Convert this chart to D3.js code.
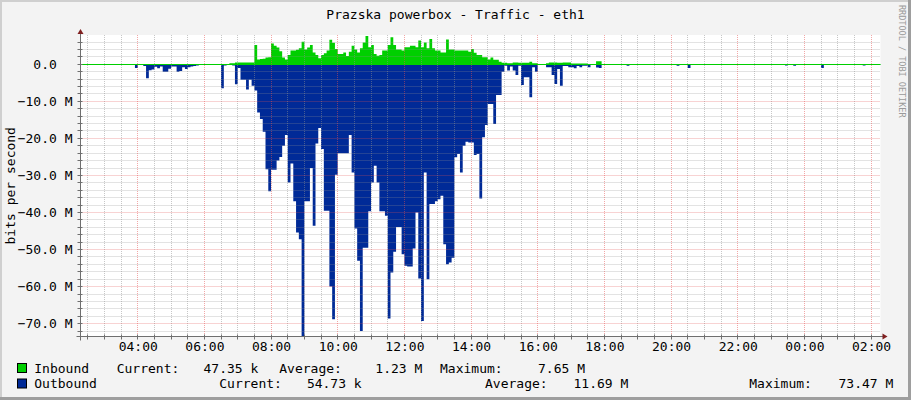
<!DOCTYPE html>
<html>
<head>
<meta charset="utf-8">
<script src="https://cdn.jsdelivr.net/npm/d3@7"></script>
<style>
  body { margin: 0; background: #fff; }
  text { font-family: "DejaVu Sans Mono", "Liberation Mono", monospace; }
</style>
</head>
<body>
<svg id="chart"></svg>
<script>
// 5 minute samples starting 02:20, values in Mbit/s
const sampleStart = "02:20";
const stepMinutes = 5;

const inbound = [
  0.05,0.05,0.05,0.05,0.05,0.05,0.05,0.05,0.05,0.05,0.05,0.05,
  0.05,0.05,0.05,0.05,0.05,0.05,0.05,0.05,0.05,0.05,0.05,0.05,
  0.05,0.05,0.05,0.05,0.05,0.05,0.05,0.05,0.05,0.05,0.05,0.05,
  0.05,0.05,0.05,0.05,0.05,0.05,0.05,0.05,0.05,0.05,0.05,0.05,
  0.05,0.05,0.05,0.05,0.05,0.3,0.3,0.5,0.5,0.5,0.5,0.5,
  0.5,0.5,5.2,1.3,1.4,1.5,1.8,1.9,5.6,5.0,4.5,3.5,
  1.8,1.3,2.5,3.7,3.7,3.9,4.3,6.1,4.0,4.5,5.2,3.2,
  2.5,1.6,2.5,3.0,3.7,6.6,5.8,4.1,2.8,2.8,3.2,2.2,
  3.4,5.0,4.0,3.2,4.3,5.9,7.65,4.6,5.2,2.8,2.3,2.5,
  3.7,3.7,5.2,7.3,5.2,4.0,4.0,3.7,4.6,4.6,5.0,5.0,
  4.6,6.4,4.6,5.9,4.3,6.8,4.3,3.7,3.7,3.2,3.2,6.7,
  4.0,4.0,3.7,3.7,3.7,3.7,3.7,3.4,4.1,3.1,2.5,2.5,
  1.9,1.9,1.3,1.8,1.2,1.2,0.7,0.4,0.4,0.3,0.3,0.5,
  0.5,0.4,0.4,0.4,0.4,0.7,0.3,0.3,0.1,0.1,0.1,0.3,
  0.5,0.5,0.5,0.4,0.4,0.5,0.5,0.5,0.2,0.2,0.2,0.2,
  0.2,0.2,0.1,0.1,0.1,0.8,0.8,0.05,0.05,0.05,0.05,0.05,
  0.05,0.05,0.05,0.05,0.05,0.05,0.05,0.05,0.05,0.05,0.05,0.05,
  0.05,0.05,0.05,0.05,0.05,0.05,0.05,0.05,0.05,0.05,0.05,0.05,
  0.05,0.05,0.05,0.05,0.05,0.05,0.05,0.05,0.05,0.05,0.05,0.05,
  0.05,0.05,0.05,0.05,0.05,0.05,0.05,0.05,0.05,0.05,0.05,0.05,
  0.05,0.05,0.05,0.05,0.05,0.05,0.05,0.05,0.05,0.05,0.05,0.05,
  0.05,0.05,0.05,0.05,0.05,0.05,0.05,0.05,0.05,0.05,0.05,0.05,
  0.05,0.05,0.05,0.05,0.05,0.05,0.05,0.05,0.05,0.05,0.05,0.05,
  0.05,0.05,0.05,0.05,0.05,0.05,0.05,0.05,0.05,0.05,0.05,0.05
];

const outbound = [
  0.05,0.05,0.05,0.05,0.05,0.05,0.05,0.05,0.05,0.05,0.05,0.05,
  0.05,0.05,0.05,0.05,0.05,0.05,0.05,1.0,0.1,0.2,0.5,3.8,
  1.6,1.4,0.7,1.1,0.6,2.0,2.0,1.2,0.6,0.6,2.0,1.8,
  0.8,1.3,0.8,0.6,0.5,0.3,0.05,0.05,0.05,0.05,0.05,0.05,
  0.05,0.05,6.5,0.3,0.2,0.2,0.3,5.4,1.0,4.2,4.2,6.8,
  4.2,5.8,7.1,13.0,14.8,18.2,28.3,34.3,28.5,28.5,26.0,25.0,
  22.0,19.1,31.9,26.8,37.0,45.4,47.2,73.47,37.0,37.0,28.0,43.6,
  21.4,17.2,22.9,39.5,39.5,60.0,68.8,29.8,24.0,24.0,24.0,24.0,
  19.1,29.2,44.3,53.0,72.0,49.5,49.5,39.7,31.9,27.4,31.9,39.7,
  39.7,40.9,68.6,56.2,50.6,43.9,43.9,51.3,54.4,54.6,54.6,49.7,
  40.0,57.8,69.3,29.2,58.0,37.7,37.7,37.0,36.4,35.5,48.6,54.0,
  53.5,52.2,25.1,24.2,29.2,22.0,20.9,21.1,21.1,24.5,24.2,36.2,
  19.7,16.4,10.7,10.7,16.1,8.3,8.3,2.0,0.4,1.7,0.6,1.7,
  2.9,0.4,5.6,3.5,3.5,8.9,0.8,2.0,0.2,0.2,0.2,0.8,
  0.8,2.9,5.3,1.3,5.8,0.5,0.5,0.8,0.8,1.1,0.5,0.8,
  0.4,0.4,0.8,0.1,0.1,0.9,1.0,0.05,0.05,0.05,0.05,0.05,
  0.05,0.05,0.05,0.05,0.4,0.05,0.05,0.05,0.05,0.05,0.05,0.05,
  0.05,0.05,0.05,0.05,0.05,0.05,0.05,0.05,0.05,0.05,0.4,0.05,
  0.05,0.05,1.0,0.05,0.05,0.05,0.05,0.05,0.05,0.05,0.05,0.05,
  0.05,0.05,0.05,0.05,0.05,0.05,0.05,0.05,0.05,0.05,0.05,0.05,
  0.05,0.05,0.05,0.05,0.05,0.05,0.05,0.05,0.05,0.05,0.05,0.05,
  0.05,0.3,0.05,0.05,0.4,0.05,0.05,0.05,0.05,0.05,0.05,0.05,
  0.05,0.05,1.0,0.05,0.05,0.05,0.05,0.05,0.05,0.05,0.05,0.05,
  0.05,0.05,0.05,0.05,0.05,0.3,0.05,0.05,0.05,0.05,0.05,0.05
];

const yTickValues = [0, -10, -20, -30, -40, -50, -60, -70];
const legendNames = ["Inbound", "Outbound"];
const legendColors = ["#00cf00", "#002a97"];
const legendCurrent = ["47.35 k", "54.73 k"];
const legendAverage = ["1.23 M", "11.69 M"];
const legendMaximum = ["7.65 M", "73.47 M"];

const title = "Prazska powerbox - Traffic - eth1";
const yLabel = "bits per second";
const watermark = "RRDTOOL / TOBI OETIKER";

const width = 911, height = 400;
const plot = { left: 80.5, right: 880.5, top: 35, bottom: 336.5 };

const svg = d3.select("#chart").attr("width", width).attr("height", height);

// frame
svg.append("rect").attr("width", width).attr("height", height).attr("fill", "#f3f3f3");
svg.append("rect").attr("x", 0).attr("y", 0).attr("width", width).attr("height", 2).attr("fill", "#cfcfcf");
svg.append("rect").attr("x", 0).attr("y", 0).attr("width", 2).attr("height", height).attr("fill", "#cfcfcf");
svg.append("rect").attr("x", 0).attr("y", height - 3).attr("width", width).attr("height", 3).attr("fill", "#9e9e9e");
svg.append("rect").attr("x", width - 3).attr("y", 0).attr("width", 3).attr("height", height).attr("fill", "#9e9e9e");

const parseTime = d3.timeParse("%Y-%m-%d %H:%M");
const t0 = parseTime("2000-01-01 " + sampleStart);
const viewStart = parseTime("2000-01-01 02:17");
const viewEnd = d3.timeHour.offset(viewStart, 24);

const x = d3.scaleTime().domain([viewStart, viewEnd]).range([plot.left, plot.right]);
const y = d3.scaleLinear().domain([-73.47, 7.9]).range([plot.bottom, plot.top]);

// canvas
svg.append("rect")
    .attr("x", plot.left).attr("y", plot.top)
    .attr("width", plot.right - plot.left).attr("height", plot.bottom - plot.top)
    .attr("fill", "#fff");

svg.append("defs").append("clipPath").attr("id", "clip")
  .append("rect")
    .attr("x", plot.left).attr("y", plot.top)
    .attr("width", plot.right - plot.left).attr("height", plot.bottom - plot.top);

const series = (vals) => {
    const pts = vals.map((v, i) => ({ t: d3.timeMinute.offset(t0, i * stepMinutes), v }));
    // close last step
    pts.push({ t: d3.timeMinute.offset(t0, vals.length * stepMinutes), v: vals[vals.length - 1] });
    return pts;
};

const data = svg.append("g").attr("clip-path", "url(#clip)");

const inArea = d3.area()
    .curve(d3.curveStepAfter)
    .x(d => x(d.t))
    .y0(y(0))
    .y1(d => y(d.v));

const outArea = d3.area()
    .curve(d3.curveStepAfter)
    .x(d => x(d.t))
    .y0(y(0))
    .y1(d => y(-d.v));

data.append("path").datum(series(inbound)).attr("d", inArea).attr("fill", legendColors[0]);
data.append("path").datum(series(outbound)).attr("d", outArea).attr("fill", legendColors[1]);

// grid on top of data, like rrdtool
const grid = svg.append("g");
const crisp = v => Math.round(v - 0.5) + 0.5;

const minorX = d3.timeMinute.every(30).range(viewStart, viewEnd);
const majorX = d3.timeHour.every(2).range(viewStart, viewEnd);
const minorY = d3.range(-72, 8, 2);

grid.selectAll("line.mx")
  .data(minorX.filter(d => d.getMinutes() !== 0 || d.getHours() % 2 !== 0))
  .join("line")
    .attr("x1", d => crisp(x(d))).attr("x2", d => crisp(x(d)))
    .attr("y1", plot.top).attr("y2", plot.bottom)
    .attr("stroke", "rgba(143,143,143,0.5)").attr("stroke-dasharray", "1,1");

grid.selectAll("line.my")
  .data(minorY.filter(d => d % 10 !== 0))
  .join("line")
    .attr("x1", plot.left).attr("x2", plot.right)
    .attr("y1", d => crisp(y(d))).attr("y2", d => crisp(y(d)))
    .attr("stroke", "rgba(143,143,143,0.5)").attr("stroke-dasharray", "1,1");

grid.selectAll("line.Mx")
  .data(majorX)
  .join("line")
    .attr("x1", d => crisp(x(d))).attr("x2", d => crisp(x(d)))
    .attr("y1", plot.top).attr("y2", plot.bottom)
    .attr("stroke", "rgba(230,80,80,0.5)").attr("stroke-dasharray", "1,1");

grid.selectAll("line.My")
  .data(yTickValues.filter(d => d !== 0))
  .join("line")
    .attr("x1", plot.left).attr("x2", plot.right)
    .attr("y1", d => crisp(y(d))).attr("y2", d => crisp(y(d)))
    .attr("stroke", "rgba(230,80,80,0.5)").attr("stroke-dasharray", "1,1");

// zero line
svg.append("line")
    .attr("x1", plot.left).attr("x2", plot.right)
    .attr("y1", crisp(y(0))).attr("y2", crisp(y(0)))
    .attr("stroke", legendColors[0]).attr("stroke-width", 1.2);

// axes
const axisColor = "#6f6f6f";
const xAxis = svg.append("g")
    .attr("transform", `translate(0,${plot.bottom})`)
    .call(d3.axisBottom(x).ticks(d3.timeHour.every(2)).tickFormat(d3.timeFormat("%H:%M"))
        .tickSize(0).tickPadding(5));
const yAxis = svg.append("g")
    .attr("transform", `translate(${plot.left},0)`)
    .call(d3.axisLeft(y).tickValues(yTickValues)
        .tickFormat(d => d === 0 ? "0.0\u00a0\u00a0" : d3.format(".1f")(d) + " M")
        .tickSize(0).tickPadding(8));

[xAxis, yAxis].forEach(a => {
    a.select(".domain").remove();
    a.selectAll("text").attr("font-size", 13).attr("fill", "#000")
        .attr("font-family", "DejaVu Sans Mono, monospace");
});

// tick marks
svg.selectAll("line.xt")
  .data(minorX)
  .join("line")
    .attr("x1", d => crisp(x(d))).attr("x2", d => crisp(x(d)))
    .attr("y1", plot.bottom - 2).attr("y2", plot.bottom + 3)
    .attr("stroke", axisColor);
svg.selectAll("line.yt")
  .data(minorY)
  .join("line")
    .attr("x1", plot.left - 3).attr("x2", plot.left + 2)
    .attr("y1", d => crisp(y(d))).attr("y2", d => crisp(y(d)))
    .attr("stroke", axisColor);

svg.append("line")
    .attr("x1", plot.left).attr("x2", plot.left)
    .attr("y1", plot.top - 4).attr("y2", plot.bottom + 4)
    .attr("stroke", axisColor);
svg.append("line")
    .attr("x1", plot.left - 4).attr("x2", plot.right + 3)
    .attr("y1", plot.bottom).attr("y2", plot.bottom)
    .attr("stroke", axisColor);

// arrows
const arrowColor = "#7f1f1f";
svg.append("path")
    .attr("d", `M${plot.left - 3},${plot.top - 1}L${plot.left + 3},${plot.top - 1}L${plot.left},${plot.top - 6}Z`)
    .attr("fill", arrowColor);
svg.append("path")
    .attr("d", `M${plot.right + 2},${plot.bottom - 3}L${plot.right + 2},${plot.bottom + 3}L${plot.right + 7},${plot.bottom}Z`)
    .attr("fill", arrowColor);

// title and labels
svg.append("text")
    .attr("x", width / 2).attr("y", 19)
    .attr("text-anchor", "middle").attr("font-size", 13)
    .text(title);

svg.append("text")
    .attr("transform", `translate(15,${(plot.top + plot.bottom) / 2}) rotate(-90)`)
    .attr("text-anchor", "middle").attr("font-size", 13)
    .text(yLabel);

svg.append("text")
    .attr("transform", "translate(899,5) rotate(90)")
    .attr("font-size", 8.5).attr("fill", "#9a9a9a")
    .text(watermark);

// legend
const rowY = [372.7, 388.2];
const cols = [
    { labelX: 116.7, valueEnd: 258.3, avgX: 279.3, avgEnd: 422.3, maxX: 440, maxEnd: 585 },
    { labelX: 219.3, valueEnd: 361.7, avgX: 485, avgEnd: 628.3, maxX: 749.3, maxEnd: 893.3 }
];

const legend = svg.append("g").attr("font-size", 13);
legendNames.forEach((name, i) => {
    const c = cols[i], by = rowY[i];
    legend.append("rect")
        .attr("x", 17.5).attr("y", by - 9.2).attr("width", 9).attr("height", 9)
        .attr("fill", legendColors[i]).attr("stroke", "#000");
    legend.append("text").attr("x", 34.3).attr("y", by).text(name);
    legend.append("text").attr("x", c.labelX).attr("y", by).text("Current:");
    legend.append("text").attr("x", c.valueEnd).attr("y", by).attr("text-anchor", "end").text(legendCurrent[i]);
    legend.append("text").attr("x", c.avgX).attr("y", by).text("Average:");
    legend.append("text").attr("x", c.avgEnd).attr("y", by).attr("text-anchor", "end").text(legendAverage[i]);
    legend.append("text").attr("x", c.maxX).attr("y", by).text("Maximum:");
    legend.append("text").attr("x", c.maxEnd).attr("y", by).attr("text-anchor", "end").text(legendMaximum[i]);
});
</script>
</body>
</html>
